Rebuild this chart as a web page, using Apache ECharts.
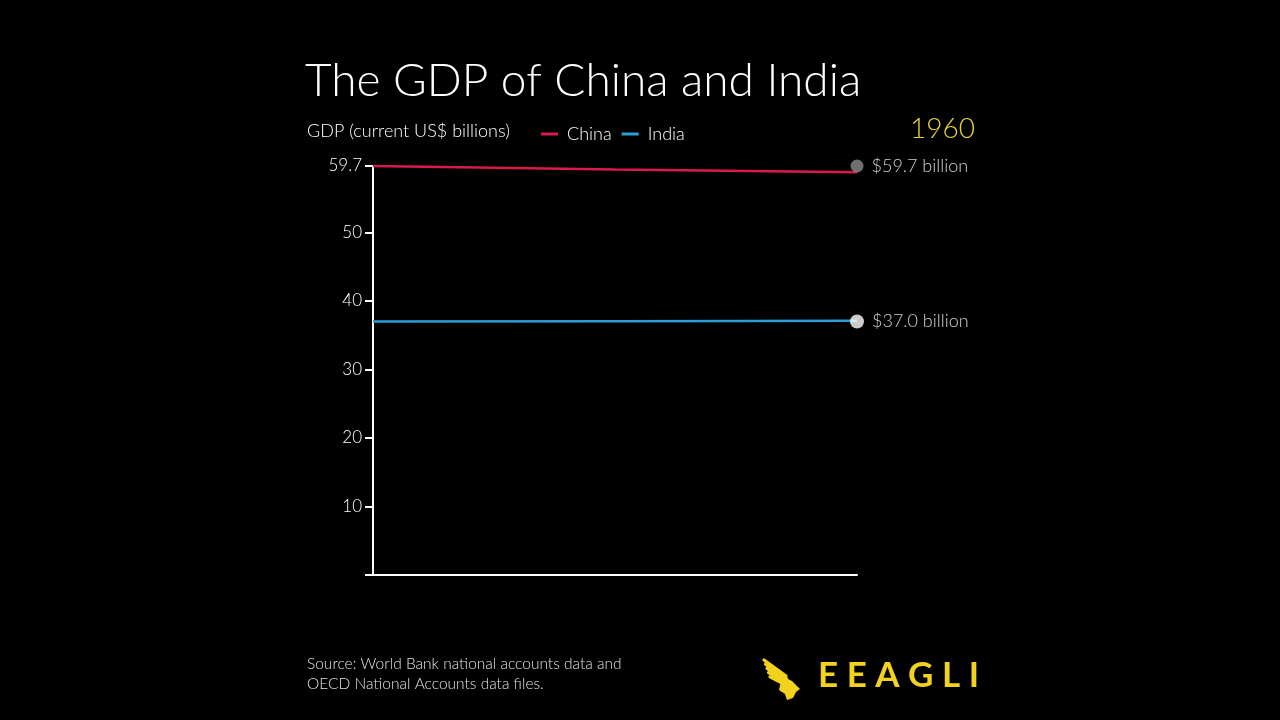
<!DOCTYPE html>
<html>
<head>
<meta charset="utf-8">
<script src="https://cdn.jsdelivr.net/npm/echarts@6/dist/echarts.min.js"></script>
<style>
html,body{margin:0;padding:0;background:#000;}
#chart{width:1280px;height:720px;}
</style>
</head>
<body>
<div id="chart"></div>
<script>
// ---- data ----
const timeSteps = [0, 0.5, 1];
const chinaValues = [59.7, 59.2, 58.8];
const indiaValues = [37.0, 37.05, 37.1];
const chinaCurrent = 59.7;
const indiaCurrent = 37.0;
const currentYear = '1960';
const yMax = 59.7;
const yInterval = 10;

const chart = echarts.init(document.getElementById('chart'));
const FONT = 'Lato, "Open Sans", sans-serif';
const YEL = '#f2d21c';

// decorative eagle logo (rough sketch)
const eagle = [];
for (let i = 0; i < 5; i++) {
  eagle.push({ type: 'line', shape: { x1: 764 + i * 1.5, y1: 660 + i * 4.2, x2: 786 + i * 0.5, y2: 676 + i * 2.5 },
    style: { stroke: YEL, lineWidth: 3.2, lineCap: 'round' } });
}
eagle.push({ type: 'polygon', shape: { points: [[782, 676], [792, 681], [800, 689], [796, 692], [793, 698], [787, 700], [785, 694], [779, 690]] },
  style: { fill: YEL } });

const option = {
  backgroundColor: '#000',
  animation: false,
  textStyle: { fontFamily: FONT },
  grid: { left: 373, right: 423, top: 166, bottom: 145 },
  legend: {
    left: 536, top: 120,
    data: ['China', 'India'],
    icon: 'rect',
    itemWidth: 17, itemHeight: 3, itemGap: 10,
    textStyle: { color: '#ffffff', fontSize: 18, fontFamily: FONT, fontWeight: 300, padding: [0, 0, 0, 4] }
  },
  xAxis: {
    type: 'value', min: 0, max: 1,
    axisLine: { show: true, lineStyle: { color: '#fff', width: 2 } },
    axisTick: { show: false }, axisLabel: { show: false }, splitLine: { show: false }
  },
  yAxis: {
    type: 'value', min: 0, max: yMax, interval: yInterval,
    axisLine: { show: true, lineStyle: { color: '#fff', width: 2 } },
    axisTick: { show: true, length: 8, lineStyle: { color: '#fff', width: 2 } },
    axisLabel: {
      color: '#ffffff', fontSize: 17, fontFamily: FONT, fontWeight: 300, margin: 11,
      formatter: v => v === 0 ? '' : (Math.abs(v - yMax) < 1e-6 ? yMax.toFixed(1) : String(v))
    },
    splitLine: { show: false }
  },
  series: [
    {
      name: 'China', type: 'line', showSymbol: false,
      data: timeSteps.map((t, i) => [t, chinaValues[i]]),
      lineStyle: { color: '#d81b4b', width: 2.5 }, itemStyle: { color: '#d81b4b' }, z: 3
    },
    {
      name: 'India', type: 'line', showSymbol: false,
      data: timeSteps.map((t, i) => [t, indiaValues[i]]),
      lineStyle: { color: '#2b9ed8', width: 2.5 }, itemStyle: { color: '#2b9ed8' }, z: 3
    },
    {
      name: 'chinaDot', type: 'scatter', symbolSize: 13,
      data: [[1, chinaCurrent]],
      itemStyle: { color: '#8c8c8c' }, z: 5,
      label: { show: true, position: 'right', distance: 8, color: '#ffffff', fontSize: 18, fontFamily: FONT, fontWeight: 300,
        formatter: p => '$' + p.value[1].toFixed(1) + ' billion' }
    },
    {
      name: 'indiaDot', type: 'scatter', symbolSize: 14,
      data: [[1, indiaCurrent]],
      itemStyle: { color: '#ffffff' }, z: 5,
      label: { show: true, position: 'right', distance: 8, color: '#ffffff', fontSize: 18, fontFamily: FONT, fontWeight: 300,
        formatter: p => '$' + p.value[1].toFixed(1) + ' billion' }
    }
  ],
  graphic: [
    { type: 'text', left: 305, top: 58, style: { text: 'The GDP of China and India', fill: '#fff', font: '300 46px ' + FONT } },
    { type: 'text', left: 307, top: 122, style: { text: 'GDP (current US$ billions)', fill: '#ffffff', font: '300 18px ' + FONT } },
    { type: 'text', right: 305, top: 115, style: { text: currentYear, fill: '#e8d23c', font: '300 28px ' + FONT } },
    { type: 'text', left: 307, top: 654, style: { text: 'Source: World Bank national accounts data and\nOECD National Accounts data files.', fill: '#e0e0e0', font: '300 15.5px ' + FONT, lineHeight: 20 } },
    { type: 'text', left: 818, top: 658, style: { text: 'E E A G L I', fill: YEL, font: 'bold 35px ' + FONT } },
    ...eagle
  ]
};
chart.setOption(option);
</script>
</body>
</html>
